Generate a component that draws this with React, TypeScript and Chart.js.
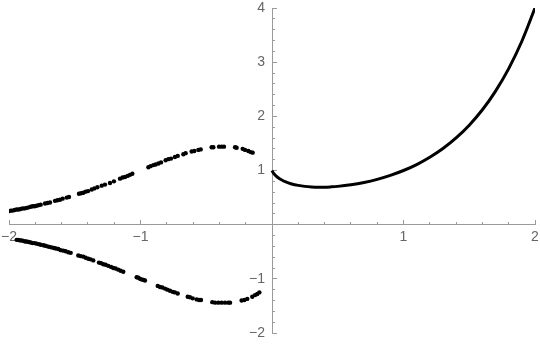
import React, { useEffect, useRef } from 'react';
import { Chart, registerables } from 'chart.js';

Chart.register(...registerables);

// Upper branch of dots (x < 0)
const upperX = [-2.0, -1.985, -1.972, -1.957, -1.942, -1.926, -1.911, -1.896, -1.881, -1.866, -1.85, -1.835, -1.82, -1.805, -1.79, -1.774, -1.759, -1.726, -1.708, -1.688, -1.65, -1.632, -1.612, -1.592, -1.561, -1.544, -1.468, -1.452, -1.435, -1.417, -1.399, -1.371, -1.351, -1.328, -1.295, -1.27, -1.232, -1.202, -1.156, -1.136, -1.118, -1.098, -1.08, -1.062, -0.94, -0.923, -0.902, -0.885, -0.864, -0.844, -0.809, -0.788, -0.768, -0.738, -0.717, -0.674, -0.657, -0.611, -0.591, -0.56, -0.542, -0.459, -0.446, -0.403, -0.383, -0.365, -0.281, -0.269, -0.223, -0.205, -0.18, -0.162, -0.147];
const upperY = [0.25, 0.26, 0.26, 0.27, 0.28, 0.28, 0.29, 0.3, 0.3, 0.31, 0.32, 0.33, 0.34, 0.34, 0.35, 0.36, 0.37, 0.39, 0.4, 0.41, 0.44, 0.45, 0.46, 0.48, 0.5, 0.51, 0.57, 0.58, 0.59, 0.61, 0.62, 0.65, 0.67, 0.69, 0.72, 0.74, 0.77, 0.8, 0.85, 0.87, 0.88, 0.9, 0.92, 0.94, 1.06, 1.08, 1.1, 1.11, 1.13, 1.15, 1.19, 1.21, 1.22, 1.25, 1.27, 1.3, 1.32, 1.35, 1.36, 1.38, 1.39, 1.43, 1.43, 1.44, 1.44, 1.44, 1.43, 1.42, 1.4, 1.38, 1.36, 1.34, 1.33];

// Lower branch of dots (x < 0)
const lowerX = [-1.942, -1.929, -1.916, -1.904, -1.891, -1.878, -1.866, -1.85, -1.835, -1.82, -1.805, -1.79, -1.774, -1.759, -1.739, -1.724, -1.708, -1.693, -1.676, -1.658, -1.643, -1.625, -1.607, -1.587, -1.569, -1.549, -1.531, -1.473, -1.455, -1.435, -1.417, -1.397, -1.379, -1.359, -1.316, -1.3, -1.283, -1.265, -1.245, -1.224, -1.207, -1.189, -1.169, -1.151, -1.131, -1.029, -1.016, -1.004, -0.991, -0.978, -0.966, -0.869, -0.852, -0.834, -0.814, -0.796, -0.776, -0.755, -0.738, -0.717, -0.641, -0.624, -0.603, -0.573, -0.555, -0.54, -0.454, -0.433, -0.408, -0.383, -0.357, -0.332, -0.319, -0.231, -0.21, -0.188, -0.15, -0.129, -0.112, -0.096];
const lowerY = [-0.28, -0.28, -0.29, -0.29, -0.3, -0.31, -0.31, -0.32, -0.33, -0.34, -0.34, -0.35, -0.36, -0.37, -0.38, -0.39, -0.4, -0.41, -0.42, -0.43, -0.44, -0.45, -0.47, -0.48, -0.49, -0.51, -0.52, -0.57, -0.58, -0.59, -0.61, -0.63, -0.64, -0.66, -0.7, -0.71, -0.73, -0.74, -0.76, -0.78, -0.8, -0.81, -0.83, -0.85, -0.87, -0.97, -0.98, -1.0, -1.01, -1.02, -1.03, -1.13, -1.15, -1.16, -1.18, -1.2, -1.22, -1.24, -1.25, -1.27, -1.33, -1.34, -1.36, -1.38, -1.39, -1.39, -1.43, -1.44, -1.44, -1.44, -1.44, -1.44, -1.44, -1.4, -1.39, -1.37, -1.33, -1.3, -1.28, -1.25];

// Continuous curve (x >= 0)
const curveX = [0, 0.005, 0.01, 0.02, 0.03, 0.05, 0.075, 0.1, 0.15, 0.2, 0.25, 0.3, 0.35, 0.4, 0.45, 0.5, 0.6, 0.7, 0.8, 0.9, 1.0, 1.1, 1.2, 1.3, 1.4, 1.5, 1.6, 1.7, 1.8, 1.9, 2.0];
const curveY = [1.0, 0.974, 0.955, 0.925, 0.9, 0.861, 0.824, 0.794, 0.752, 0.725, 0.707, 0.697, 0.693, 0.693, 0.698, 0.707, 0.736, 0.779, 0.837, 0.91, 1.0, 1.11, 1.245, 1.406, 1.602, 1.837, 2.121, 2.466, 2.881, 3.386, 4.0];

// Axis ticks
const xTickValues = [-2, -1, 1, 2];
const xTickLabels = ['\u22122', '\u22121', '1', '2'];
const yTickValues = [-2, -1, 1, 2, 3, 4];
const yTickLabels = ['\u22122', '\u22121', '1', '2', '3', '4'];

const AXIS_COLOR = '#9a9a9a';
const LABEL_COLOR = '#666666';
const FONT = { family: "'Liberation Sans', Arial, sans-serif", size: 14 };

function labelFor(values: number[], labels: string[], suffix = '') {
  return (v: number | string) => {
    const n = Number(v);
    const i = values.findIndex((t) => Math.abs(t - n) < 1e-9);
    return i >= 0 ? labels[i] + suffix : '';
  };
}

const zeroH = (s: any) => {
  s.height = 0;
  s.paddingLeft = 0;
  s.paddingRight = 0;
};
const zeroV = (s: any) => {
  s.width = 0;
  s.paddingTop = 0;
  s.paddingBottom = 0;
};

export default function App() {
  const ref = useRef<HTMLCanvasElement | null>(null);

  useEffect(() => {
    if (!ref.current) return;
    const chart = new Chart(ref.current, {
      type: 'scatter',
      data: {
        datasets: [
          {
            data: upperX.map((x, i) => ({ x, y: upperY[i] })),
            showLine: false,
            pointRadius: 2.2,
            pointBorderWidth: 0,
            pointBackgroundColor: '#000',
            xAxisID: 'x',
            yAxisID: 'y',
          },
          {
            data: lowerX.map((x, i) => ({ x, y: lowerY[i] })),
            showLine: false,
            pointRadius: 2.2,
            pointBorderWidth: 0,
            pointBackgroundColor: '#000',
            xAxisID: 'x',
            yAxisID: 'y',
          },
          {
            data: curveX.map((x, i) => ({ x, y: curveY[i] })),
            showLine: true,
            pointRadius: 0,
            borderColor: '#000',
            borderWidth: 3,
            cubicInterpolationMode: 'monotone',
            xAxisID: 'x',
            yAxisID: 'y',
          },
        ],
      },
      options: {
        responsive: false,
        animation: false,
        events: [],
        layout: { padding: { left: 9, right: 5, top: 8, bottom: 11 } },
        plugins: { legend: { display: false }, tooltip: { enabled: false } },
        scales: {
          x: {
            type: 'linear',
            min: -2,
            max: 2,
            position: { y: 0 },
            afterFit: zeroH,
            border: { display: true, color: AXIS_COLOR, width: 1 },
            grid: { drawOnChartArea: false, drawTicks: true, tickLength: -5, tickColor: AXIS_COLOR },
            ticks: {
              stepSize: 1,
              autoSkip: false,
              maxRotation: 0,
              padding: 9,
              color: LABEL_COLOR,
              font: FONT,
              callback: labelFor(xTickValues, xTickLabels),
            },
          },
          xMinor: {
            type: 'linear',
            axis: 'x',
            min: -2,
            max: 2,
            position: { y: 0 },
            afterFit: zeroH,
            border: { display: false },
            grid: { drawOnChartArea: false, drawTicks: true, tickLength: -3, tickColor: AXIS_COLOR },
            ticks: { stepSize: 0.2, maxTicksLimit: 100, autoSkip: false, maxRotation: 0, callback: () => '' },
          },
          y: {
            type: 'linear',
            min: -2,
            max: 4,
            position: { x: 0 },
            afterFit: zeroV,
            border: { display: true, color: AXIS_COLOR, width: 1 },
            grid: { drawOnChartArea: false, drawTicks: true, tickLength: -5, tickColor: AXIS_COLOR },
            ticks: {
              stepSize: 1,
              autoSkip: false,
              padding: 9,
              color: LABEL_COLOR,
              font: FONT,
              callback: labelFor(yTickValues, yTickLabels, '\u2002'),
            },
          },
          yMinor: {
            type: 'linear',
            axis: 'y',
            min: -2,
            max: 4,
            position: { x: 0 },
            afterFit: zeroV,
            border: { display: false },
            grid: { drawOnChartArea: false, drawTicks: true, tickLength: -3, tickColor: AXIS_COLOR },
            ticks: { stepSize: 0.2, maxTicksLimit: 100, autoSkip: false, callback: () => '' },
          },
        },
      } as any,
    });
    return () => chart.destroy();
  }, []);

  return (
    <div style={{ position: 'fixed', left: 0, top: 0, width: 540, height: 344, background: '#fff' }}>
      <canvas ref={ref} width={540} height={344} style={{ display: 'block' }} />
    </div>
  );
}
